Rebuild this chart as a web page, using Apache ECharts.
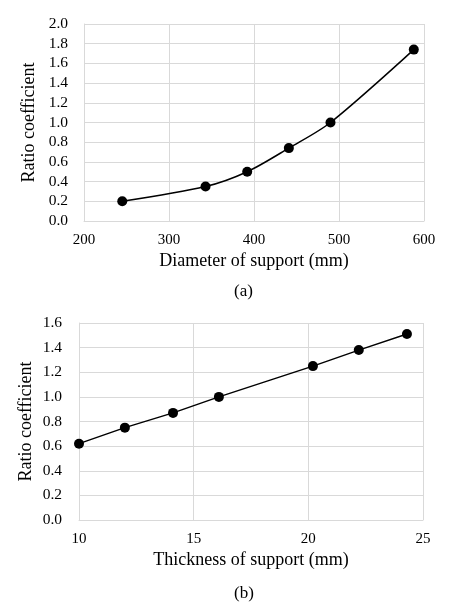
<!DOCTYPE html>
<html><head><meta charset="utf-8">
<script src="https://cdn.jsdelivr.net/npm/echarts@6/dist/echarts.min.js"></script>
<style>html,body{margin:0;padding:0;background:#fff}#c{width:459px;height:610px}</style>
</head><body><div id="c"></div>
<script>
const diameter = [245, 343, 392, 441, 490, 588];
const ratioA = [0.20, 0.35, 0.50, 0.74, 1.00, 1.74];
const thickness = [10, 12, 14.1, 16.1, 20.2, 22.2, 24.3];
const ratioB = [0.62, 0.75, 0.87, 1.00, 1.25, 1.38, 1.51];
const xTitleA = 'Diameter of support (mm)';
const xTitleB = 'Thickness of support (mm)';
const yTitle = 'Ratio coefficient';

const font = 'Liberation Serif';
const gridCol = '#d9d9d9';
const chart = echarts.init(document.getElementById('c'));
function xAxis(idx, min, max, interval, name){
  return {type:'value', gridIndex:idx, min, max, interval, name, nameLocation:'middle', nameGap:31,
    nameTextStyle:{fontFamily:font, fontSize:18, color:'#000'},
    axisLine:{show:true, lineStyle:{color:gridCol}}, axisTick:{show:false},
    axisLabel:{fontFamily:font, fontSize:15, color:'#000', margin:12},
    splitLine:{show:true, lineStyle:{color:gridCol}}};
}
function yAxis(idx, min, max, interval, gap, margin){
  return {type:'value', gridIndex:idx, min, max, interval, name:yTitle, nameLocation:'middle', nameGap:gap,
    nameMoveOverlap:false,
    nameTextStyle:{fontFamily:font, fontSize:18, color:'#000'},
    axisLine:{show:true, lineStyle:{color:gridCol}}, axisTick:{show:false},
    axisLabel:{fontFamily:font, fontSize:15.5, color:'#000', margin, formatter:v=>v.toFixed(1)},
    splitLine:{show:true, lineStyle:{color:gridCol}}};
}
chart.setOption({
  animation:false,
  grid:[{left:84, right:35, top:24, height:197},{left:79, right:36, top:323, height:197}],
  xAxis:[xAxis(0,200,600,100,xTitleA), xAxis(1,10,25,5,xTitleB)],
  yAxis:[yAxis(0,0,2,0.2,46,16), yAxis(1,0,1.6,0.2,44,17)],
  series:[
    {type:'line', xAxisIndex:0, yAxisIndex:0, data:diameter.map((d,i)=>[d,ratioA[i]]), smooth:0.3,
     symbol:'circle', symbolSize:10, lineStyle:{color:'#000', width:1.5}, itemStyle:{color:'#000'}},
    {type:'line', xAxisIndex:1, yAxisIndex:1, data:thickness.map((d,i)=>[d,ratioB[i]]),
     symbol:'circle', symbolSize:10, lineStyle:{color:'#000', width:1.5}, itemStyle:{color:'#000'}}
  ],
  graphic:[
    {type:'text', left:234, top:283, style:{text:'(a)', font:'17px "Liberation Serif"', fill:'#000'}},
    {type:'text', left:234, top:585, style:{text:'(b)', font:'17px "Liberation Serif"', fill:'#000'}}
  ]
});
</script></body></html>
